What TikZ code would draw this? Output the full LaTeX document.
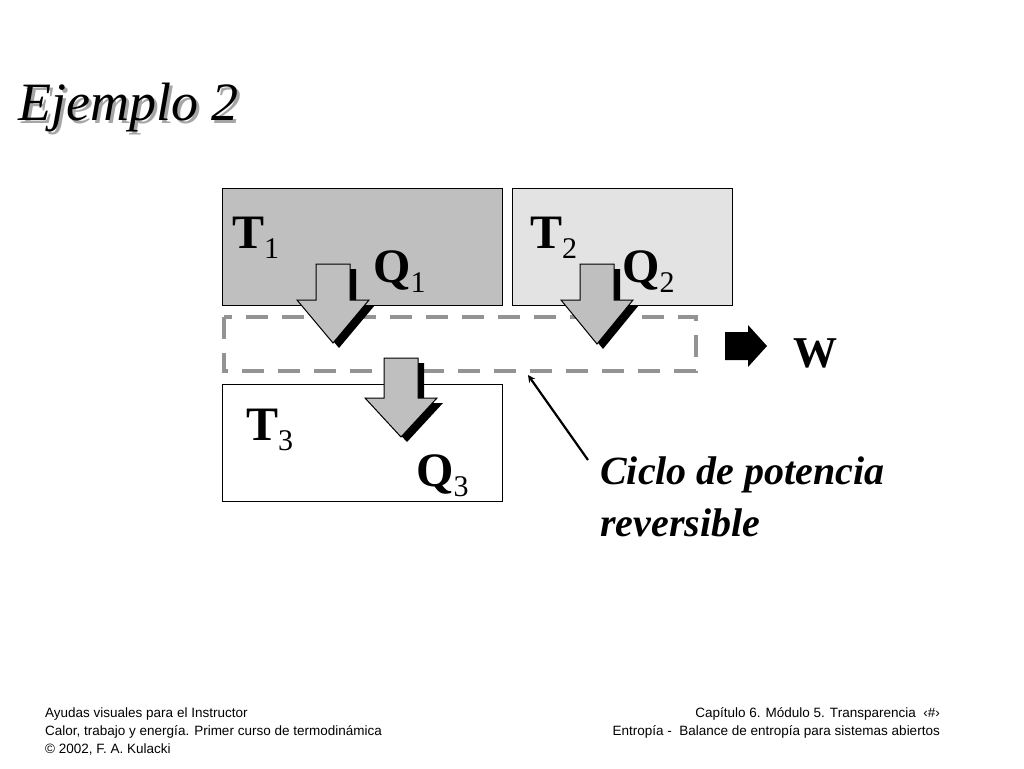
\documentclass[tikz,border=0pt]{standalone}
\usepackage{fontspec}
\setmainfont{Liberation Serif}
\newfontfamily\footfont{Liberation Sans}
\newcommand{\sbs}[1]{\raisebox{-0.22em}{\fontsize{30}{32}\selectfont\mdseries #1}}
\begin{document}
\begin{tikzpicture}[x=1pt,y=-1pt,
  lbl/.style={anchor=base west,inner sep=0,font=\fontsize{48}{50}\selectfont\bfseries},
  ttl/.style={anchor=base west,inner sep=0,font=\fontsize{54}{56}\selectfont\itshape},
  captxt/.style={anchor=base west,inner sep=0,font=\fontsize{40}{44}\selectfont\bfseries\itshape},
  foot/.style={anchor=base west,inner sep=0,font=\fontsize{13.5}{15}\selectfont\footfont},
  footr/.style={anchor=base east,inner sep=0,font=\fontsize{13.5}{15}\selectfont\footfont}]
\useasboundingbox (0,0) rectangle (1024,768);
\fill[white] (0,0) rectangle (1024,768);
% title
\node[ttl,text=gray!70] (tshadow) at (21,123) {Ejemplo 2};
\node[ttl] (title) at (18,120) {Ejemplo 2};
% boxes
\draw[fill={rgb,255:red,191;green,191;blue,191}] (222,188) rectangle (502,305);
\draw[fill={rgb,255:red,227;green,227;blue,227}] (512,188) rectangle (732,305);
\draw[fill=white] (222,384) rectangle (502,501);
\draw[line width=4.5pt,gray!85,dash pattern=on 22pt off 14pt] (224,317) rectangle (696,371);
% labels
\node[lbl] (t1) at (232,248) {T\sbs{1}};
\node[lbl] (t2) at (530,248) {T\sbs{2}};
\node[lbl] (t3) at (246,440) {T\sbs{3}};
% block arrows
\foreach \n/\cx/\ty/\hy/\tip in {a1/333/264/300/343, a2/597/264/300/344, a3/401/358/398/437}{
  \fill[black] ({\cx-17+6},{\ty+5}) -- ({\cx+17+6},{\ty+5}) -- ({\cx+17+6},{\hy+5}) -- ({\cx+36+6},{\hy+5}) -- ({\cx+6},{\tip+5}) -- ({\cx-36+6},{\hy+5}) -- ({\cx-17+6},{\hy+5}) -- cycle;
  \draw[fill={rgb,255:red,191;green,191;blue,191},line width=1pt] ({\cx-17},\ty) -- ({\cx+17},\ty) -- ({\cx+17},\hy) -- ({\cx+36},\hy) -- (\cx,\tip) -- ({\cx-36},\hy) -- ({\cx-17},\hy) -- cycle;
}
\node[lbl] (q1) at (373,282) {Q\sbs{1}};
\node[lbl] (q2) at (622,282) {Q\sbs{2}};
\node[lbl] (q3) at (416,486) {Q\sbs{3}};
% W arrow
\fill[black] (725,332) -- (748,332) -- (748,325) -- (767,346) -- (748,367) -- (748,360) -- (725,360) -- cycle;
\node[lbl,font=\fontsize{44}{46}\selectfont\bfseries] (w) at (793,367) {W};
% caption
\node[captxt] (cap1) at (600,484) {Ciclo de potencia};
\node[captxt] (cap2) at (600,536) {reversible};
\coordinate (ptrS) at (588,460);
\coordinate (ptrE) at (528,375);
\draw[line width=2.2pt,-stealth] (ptrS) -- (ptrE);
% footer
\node[foot] (f1) at (45,717) {Ayudas visuales para el Instructor};
\node[foot] (f2) at (45,735) {Calor, trabajo y energía. Primer curso de termodinámica};
\node[foot] (f3) at (45,753) {© 2002, F. A. Kulacki};
\node[footr] (f4) at (940,717) {Capítulo 6. Módulo 5. Transparencia \ ‹\#›};
\node[footr] (f5) at (940,735) {Entropía -\ \ Balance de entropía para sistemas abiertos};
\end{tikzpicture}
\end{document}
